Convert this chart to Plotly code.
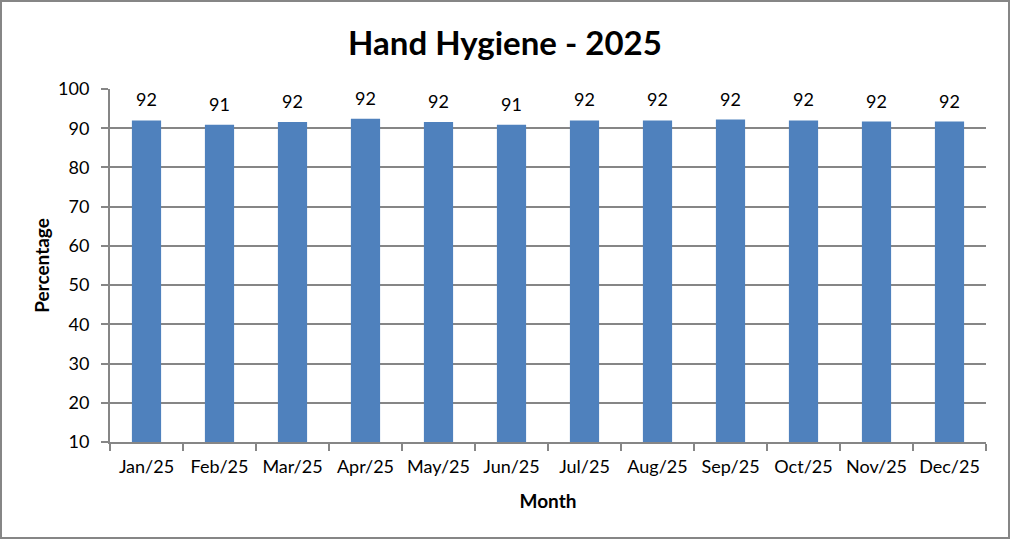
import plotly.graph_objects as go

months = ["Jan/25", "Feb/25", "Mar/25", "Apr/25", "May/25", "Jun/25",
          "Jul/25", "Aug/25", "Sep/25", "Oct/25", "Nov/25", "Dec/25"]
compliance = [92.0, 90.9, 91.6, 92.4, 91.6, 90.9, 92.0, 92.0, 92.2, 92.0, 91.7, 91.7]
labels = ["92", "91", "92", "92", "92", "91", "92", "92", "92", "92", "92", "92"]

W, H = 1010, 539
ML, MR, MT, MB = 110, 24, 89, 97
AXIS_GREY = "#868686"
FONT = "Lato"

fig = go.Figure(
    go.Bar(
        x=months,
        y=compliance,
        marker=dict(color="#4F81BD", line=dict(width=0)),
        hoverinfo="x+y",
    )
)

# data labels sit a little above each bar, Excel "outside end" style
for m, v, t in zip(months, compliance, labels):
    fig.add_annotation(
        x=m, y=v, text=t, showarrow=False, yanchor="bottom", yshift=8,
        font=dict(family=FONT, size=18, color="black"),
    )

# outer chart border
pw, ph = W - ML - MR, H - MT - MB
fig.add_shape(
    type="rect", xref="paper", yref="paper",
    x0=-(ML - 1) / pw, x1=1 + (MR - 1) / pw,
    y0=-(MB - 1) / ph, y1=1 + (MT - 1) / ph,
    line=dict(color=AXIS_GREY, width=2), layer="above",
)

fig.update_layout(
    width=W, height=H,
    margin=dict(l=ML, r=MR, t=MT, b=MB),
    paper_bgcolor="white", plot_bgcolor="white",
    bargap=0.6,
    showlegend=False,
    font=dict(family=FONT, size=18, color="black"),
    title=dict(
        text="<b>Hand Hygiene - 2025</b>",
        x=0.5, xanchor="center", xref="container",
        y=1 - 43 / H, yanchor="middle",
        font=dict(family=FONT, size=33, color="black"),
    ),
    xaxis=dict(
        title=dict(text="<b>Month</b>", font=dict(family=FONT, size=19), standoff=19),
        showline=True, linecolor=AXIS_GREY, linewidth=2,
        ticks="outside", tickson="boundaries", ticklen=7,
        tickcolor=AXIS_GREY, tickwidth=2, ticklabelstandoff=7,
        showgrid=False,
        tickfont=dict(family=FONT, size=18),
    ),
    yaxis=dict(
        title=dict(text="<b>Percentage</b>", font=dict(family=FONT, size=19), standoff=3),
        range=[10, 100], dtick=10, tick0=10,
        showline=True, linecolor=AXIS_GREY, linewidth=2,
        ticks="outside", ticklen=7, tickcolor=AXIS_GREY, tickwidth=2,
        ticklabelstandoff=8,
        showgrid=True, gridcolor=AXIS_GREY, gridwidth=1.5,
        zeroline=False,
        tickfont=dict(family=FONT, size=18),
    ),
)

fig.write_html(
    "out.html",
    config={"displayModeBar": False},
    post_script="document.body.style.margin='0';",
)
